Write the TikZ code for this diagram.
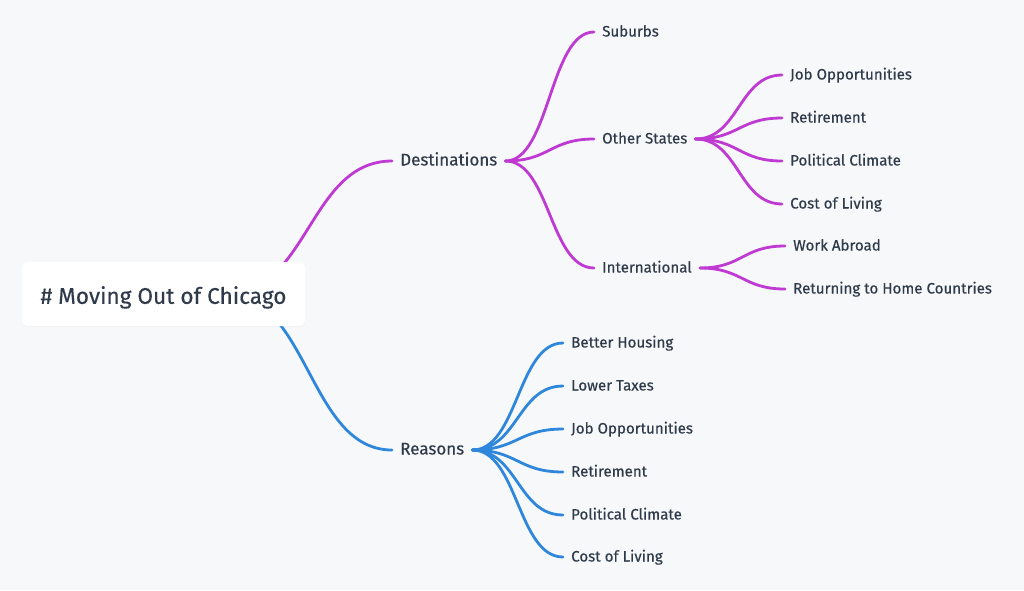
\documentclass[tikz,border=0pt]{standalone}
\usepackage{fontspec}
\setmainfont{Fira Sans}[FakeBold=0.35]
\usetikzlibrary{calc,shadows}
\definecolor{bg}{HTML}{F7F8FA}
\definecolor{ink}{HTML}{2F3B4A}
\definecolor{pur}{HTML}{BE3AD2}
\definecolor{blu}{HTML}{2F87DC}
\pgfdeclarelayer{background}
\pgfsetlayers{background,main}
\tikzset{
  lbl/.style={anchor=west, inner sep=0pt, text=ink, font=\fontsize{15.1}{16}\selectfont, text height=9pt, text depth=0pt},
  lblone/.style={lbl, font=\fontsize{17}{18}\selectfont},
  rootbox/.style={fill=white, rounded corners=5pt, minimum width=283pt, minimum height=64pt, inner sep=0pt, text=ink, font=\fontsize{22.6}{24}\selectfont, text height=21pt, text depth=1.4pt, drop shadow={opacity=0.05, shadow xshift=0pt, shadow yshift=-1pt}},
  wire/.style={line width=2.8pt, line cap=round},
  link/.style={to path={let \p1=([xshift=8pt]\tikztostart.east), \p2=([xshift=-8pt]\tikztotarget.west), \n1={0.5*\x1+0.5*\x2} in (\p1) .. controls (\n1,\y1) and (\n1,\y2) .. (\p2)}},
  rootlink/.style={to path={let \p1=([xshift=62pt]\tikztostart.center), \p2=([xshift=-8pt]\tikztotarget.west), \n1={0.5*\x1+0.5*\x2} in (\p1) .. controls (\n1,\y1) and (\n1,\y2) .. (\p2)}}
}
\begin{document}
\begin{tikzpicture}[x=1pt,y=-1pt]
\begin{pgfonlayer}{background}
\fill[bg] (0,0) rectangle (1024,590);
\end{pgfonlayer}
\useasboundingbox (0,0) rectangle (1024,590);

\node[rootbox] (root) at (163.5,294) {\# Moving Out of Chicago};

\node[lblone] (dest) at (400,161) {Destinations};
\node[lblone] (reas) at (400,450) {Reasons};

\node[lbl] (sub) at (602,32) {Suburbs};
\node[lbl] (oth) at (602,139) {Other States};
\node[lbl] (intl) at (602,268) {International};

\node[lbl] (jobA) at (790,75) {Job Opportunities};
\node[lbl] (retA) at (790,118) {Retirement};
\node[lbl] (polA) at (790,161) {Political Climate};
\node[lbl] (costA) at (790,204) {Cost of Living};

\node[lbl] (work) at (793,246) {Work Abroad};
\node[lbl] (home) at (793,289) {Returning to Home Countries};

\node[lbl] (house) at (571,343) {Better Housing};
\node[lbl] (tax) at (571,386) {Lower Taxes};
\node[lbl] (jobB) at (571,429) {Job Opportunities};
\node[lbl] (retB) at (571,472) {Retirement};
\node[lbl] (polB) at (571,515) {Political Climate};
\node[lbl] (costB) at (571,557) {Cost of Living};

\begin{pgfonlayer}{background}
\draw[wire, pur] (root) to[rootlink] (dest);
\draw[wire, blu] (root) to[rootlink] (reas);
\foreach \c in {sub,oth,intl} \draw[wire, pur] (dest) to[link] (\c);
\foreach \c in {jobA,retA,polA,costA} \draw[wire, pur] (oth) to[link] (\c);
\foreach \c in {work,home} \draw[wire, pur] (intl) to[link] (\c);
\foreach \c in {house,tax,jobB,retB,polB,costB} \draw[wire, blu] (reas) to[link] (\c);
\end{pgfonlayer}
\end{tikzpicture}
\end{document}
